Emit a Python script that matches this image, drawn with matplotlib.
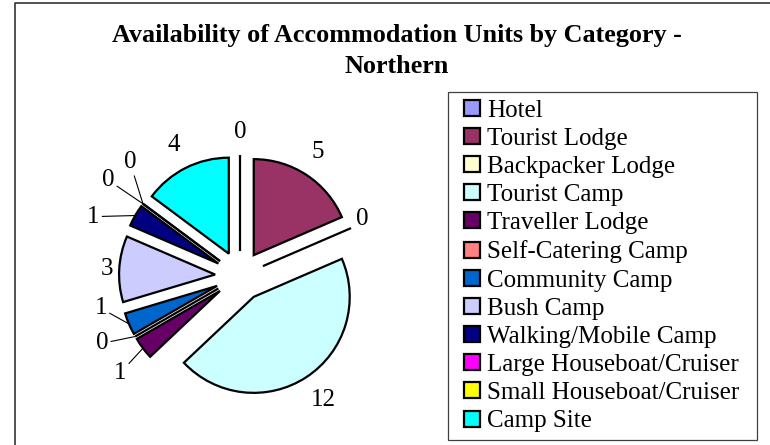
import numpy as np
import matplotlib
matplotlib.use("Agg")
import matplotlib.pyplot as plt
from matplotlib.patches import Rectangle, Wedge
from matplotlib.legend_handler import HandlerPatch
from matplotlib.lines import Line2D

plt.rcParams['font.family'] = ['Liberation Serif', 'DejaVu Serif']

# data
categories = ['Hotel', 'Tourist Lodge', 'Backpacker Lodge', 'Tourist Camp',
              'Traveller Lodge', 'Self-Catering Camp', 'Community Camp',
              'Bush Camp', 'Walking/Mobile Camp', 'Large Houseboat/Cruiser',
              'Small Houseboat/Cruiser', 'Camp Site']
units = [0, 5, 0, 12, 1, 0, 1, 3, 1, 0, 0, 4]
colors = ['#9999FF', '#993366', '#FFFFCC', '#CCFFFF', '#660066', '#FF8080',
          '#0066CC', '#CCCCFF', '#000080', '#FF00FF', '#FFFF00', '#00FFFF']

# where the value labels sit: (degrees clockwise from 12 o'clock, distance)
label_pos = [(0, 1.5), (32, 1.52), (65, 1.41), (146, 1.56), (231, 1.61),
             (244, 1.6), (257, 1.49), (273, 1.39), (292, 1.65), (306, 1.70),
             (316, 1.65), (333, 1.53)]
leader = [False, False, False, False, True, True, True, False, True, True,
          True, False]

W, H = 770, 445
fig = plt.figure(figsize=(W / 100, H / 100), dpi=100)
ax = fig.add_axes([0, 0, 1, 1])

wedges, _ = ax.pie(units, colors=colors, explode=[0.26] * len(units),
                   startangle=90, counterclock=False,
                   wedgeprops=dict(edgecolor='black', linewidth=1.6))

# pie centre at (240, 276) px, radius 96 px
px = 96.0
ax.set_xlim(-240 / px, (W - 240) / px)
ax.set_ylim(-(H - 276) / px, 276 / px)
ax.set_aspect('equal')
ax.axis('off')

for w, val, (ang, dist), lead in zip(wedges, units, label_pos, leader):
    t = np.deg2rad(90 - ang)
    tx, ty = dist * np.cos(t), dist * np.sin(t)
    if lead:
        mid = np.deg2rad((w.theta1 + w.theta2) / 2)
        cx, cy = w.center
        ax.annotate(str(val), xy=(cx + np.cos(mid), cy + np.sin(mid)),
                    xytext=(tx, ty), ha='center', va='center', fontsize=18,
                    arrowprops=dict(arrowstyle='-', lw=0.8, color='black',
                                    shrinkA=0, shrinkB=0))
    else:
        ax.text(tx, ty, str(val), ha='center', va='center', fontsize=18)

fig.text(397 / W, 1 - 51 / H,
         'Availability of Accommodation Units by Category -\nNorthern',
         ha='center', va='center', fontsize=18.8, fontweight='bold',
         linespacing=1.4)


def square(legend, orig_handle, xdescent, ydescent, width, height, fontsize):
    s = 11.5
    return Rectangle((width - xdescent - s, -ydescent + (height - s) / 2), s, s)


leg = fig.legend(wedges, categories, loc='upper left',
                 bbox_to_anchor=(448 / W, 0, 309 / W, 1 - 92 / H),
                 mode='expand', fontsize=18, frameon=True, fancybox=False,
                 framealpha=1, borderpad=0.3, handlelength=0.98,
                 handleheight=0.64, handletextpad=0.28, labelspacing=0.245,
                 borderaxespad=0,
                 handler_map={Wedge: HandlerPatch(patch_func=square)})
leg.get_frame().set_edgecolor('#404040')
leg.get_frame().set_linewidth(0.9)

# chart area border (left and top visible)
fig.add_artist(Line2D([15 / W, 15 / W, 1], [0, 1 - 3 / H, 1 - 3 / H],
                      transform=fig.transFigure, color='#333333', lw=1.2))

fig.savefig('out.png', dpi=100)
